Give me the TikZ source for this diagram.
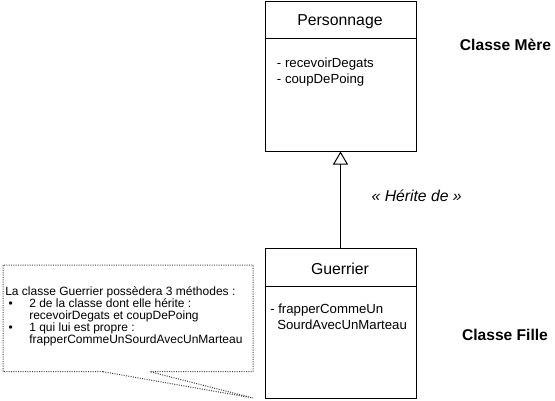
\documentclass[tikz,border=0pt]{standalone}
\usepackage{fontspec}
\setmainfont{Liberation Sans}
\usetikzlibrary{arrows.meta,calc}

\tikzset{
	classbox/.style={draw, line width=0.75pt, minimum width=113.25pt, minimum height=112.5pt, anchor=north west, inner sep=0},
	classtitle/.style={anchor=base, inner sep=0, font=\fontsize{11.85}{14}\selectfont},
	classbody/.style={anchor=north west, inner sep=0, align=left, font=\fontsize{9.9}{12}\selectfont},
	sidelabel/.style={anchor=base, inner sep=0, font=\bfseries\fontsize{11.7}{14}\selectfont},
	inherit/.style={-{Triangle[open,width=11.25pt,length=9.75pt]}, line width=0.75pt},
}

\begin{document}
\begin{tikzpicture}[x=0.75pt,y=-0.75pt]
	\useasboundingbox (0,0) rectangle (555,400);

	% classe mere
	\node [classbox] (perso) at (264.5,0.5) {};
	\draw [line width=0.75pt] ($(perso.north west)+(0,38)$) -- ($(perso.north east)+(0,38)$);
	\node [classtitle] (persotitle) at (340,25) {Personnage};
	\node [classbody] (persobody) at (276.7,58) {- recevoirDegats\\- coupDePoing};

	% classe fille
	\node [classbox] (guerrier) at (264.5,248) {};
	\draw [line width=0.75pt] ($(guerrier.north west)+(0,38.5)$) -- ($(guerrier.north east)+(0,38.5)$);
	\node [classtitle] (guerriertitle) at (340,274) {Guerrier};
	\node [classbody] (guerrierbody) at (270,303.3) {- frapperCommeUn\\\hspace*{5.25pt}SourdAvecUnMarteau};

	\draw [inherit] (guerrier.north) -- (perso.south);
	\node [anchor=base, inner sep=0, font=\itshape\fontsize{11.8}{14}\selectfont] (herite) at (416.7,201) {« Hérite de »};

	\node [sidelabel] (mere) at (505.5,50.7) {Classe Mère};
	\node [sidelabel] (fille) at (505,340.7) {Classe Fille};

	% bulle de commentaire
	\coordinate (tip) at (253,398);
	\draw [line width=0.75pt, densely dotted, black!75] (103,371.7) -- (3,371.7) -- (3,265) -- (253,265) -- (253,371.7) -- (150,371.7) -- (tip) -- cycle;
	\node [anchor=north west, inner sep=0, align=left, font=\fontsize{9}{8.95}\selectfont] (note) at (5,286.6)
		{La classe Guerrier possèdera 3 méthodes :\\
		\hspace*{2.6pt}\makebox[15.4pt][l]{\textbullet}2 de la classe dont elle hérite :\\
		\hspace*{18pt}recevoirDegats et coupDePoing\\
		\hspace*{2.6pt}\makebox[15.4pt][l]{\textbullet}1 qui lui est propre :\\
		\hspace*{18pt}frapperCommeUnSourdAvecUnMarteau};
\end{tikzpicture}
\end{document}
